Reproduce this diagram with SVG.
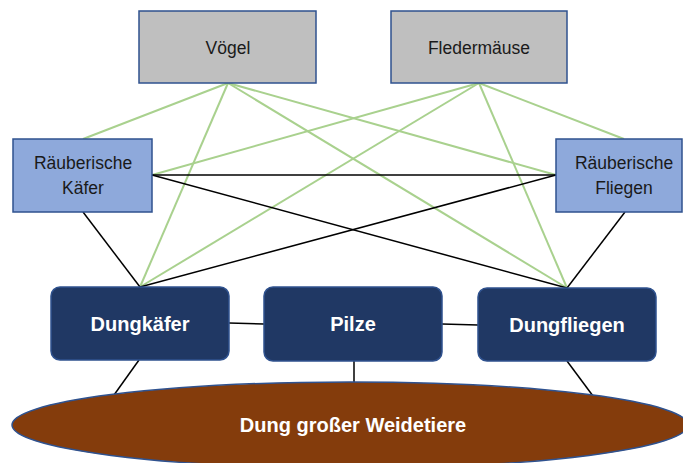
<svg xmlns="http://www.w3.org/2000/svg" width="683" height="463" viewBox="0 0 683 463">
<style>
.gray{fill:#BFBFBF;stroke:#2F528F;stroke-width:1.5}
.blue{fill:#8EA9DB;stroke:#2F528F;stroke-width:1.5}
.dark{fill:#203864;stroke:#2F528F;stroke-width:1.5}
.t{font-family:"Liberation Sans",Arial,sans-serif;font-size:17.5px;fill:#1a1a1a;text-anchor:middle}
.b{font-family:"Liberation Sans",Arial,sans-serif;font-size:20px;font-weight:bold;fill:#ffffff;text-anchor:middle}
.g{stroke:#A9D18E;stroke-width:2;fill:none}
.k{stroke:#000000;stroke-width:1.5;fill:none}
</style>
<g id="connectors">
<line class="g" x1="228" y1="83" x2="83" y2="139"/>
<line class="g" x1="228" y1="83" x2="140" y2="287"/>
<line class="g" x1="228" y1="83" x2="556" y2="175"/>
<line class="g" x1="228" y1="83" x2="567" y2="288"/>
<line class="g" x1="479" y1="83" x2="152" y2="175"/>
<line class="g" x1="479" y1="83" x2="140" y2="287"/>
<line class="g" x1="479" y1="83" x2="567" y2="288"/>
<line class="g" x1="479" y1="83" x2="624" y2="139"/>
<line class="k" x1="152" y1="175" x2="556" y2="175"/>
<line class="k" x1="152" y1="175" x2="567" y2="288"/>
<line class="k" x1="556" y1="175" x2="140" y2="287"/>
<line class="k" x1="83" y1="212" x2="140" y2="287"/>
<line class="k" x1="625" y1="212" x2="567" y2="288"/>
<line class="k" x1="229" y1="323" x2="264" y2="324"/>
<line class="k" x1="442" y1="324" x2="478" y2="325"/>
<line class="k" x1="139" y1="360" x2="114" y2="395"/>
<line class="k" x1="354" y1="361" x2="354" y2="383"/>
<line class="k" x1="567" y1="361" x2="593" y2="396"/>
</g>
<g id="voegel">
<rect class="gray" x="139" y="11" width="177" height="72"/>
<text class="t" x="228" y="54">Vögel</text>
</g>
<g id="fledermaeuse">
<rect class="gray" x="391" y="11" width="176" height="72"/>
<text class="t" x="479" y="54">Fledermäuse</text>
</g>
<g id="raeuberische-kaefer">
<rect class="blue" x="13" y="139" width="139" height="73"/>
<text class="t" x="83" y="169">Räuberische</text>
<text class="t" x="83" y="194">Käfer</text>
</g>
<g id="raeuberische-fliegen">
<rect class="blue" x="556" y="139" width="126" height="73"/>
<text class="t" x="624" y="169">Räuberische</text>
<text class="t" x="624" y="194">Fliegen</text>
</g>
<g id="dung">
<ellipse cx="350" cy="425" rx="338" ry="43" fill="#843C0C" stroke="#2F528F" stroke-width="1.5"/>
<text class="b" x="353" y="432" font-size="21">Dung großer Weidetiere</text>
</g>
<g id="dungkaefer">
<rect class="dark" x="51" y="287" width="178" height="73" rx="9"/>
<text class="b" x="140" y="331">Dungkäfer</text>
</g>
<g id="pilze">
<rect class="dark" x="264" y="287" width="178" height="74" rx="9"/>
<text class="b" x="353" y="331">Pilze</text>
</g>
<g id="dungfliegen">
<rect class="dark" x="478" y="288" width="178" height="73" rx="9"/>
<text class="b" x="567" y="332">Dungfliegen</text>
</g>
</svg>
